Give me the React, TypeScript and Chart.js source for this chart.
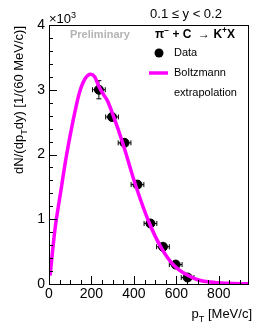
import React, { useEffect, useRef } from "react";
import { Chart, registerables } from "chart.js";
Chart.register(...registerables);

// Data points (pT in MeV/c, yield in units of 10^3)
const ptData = [235, 297, 356, 417, 478, 537, 597, 653];
const yieldData = [3.0, 2.58, 2.18, 1.535, 0.935, 0.575, 0.3, 0.1];
const ptErr = [30, 30, 30, 30, 30, 30, 30, 30];
const yieldErr = [0.14, 0.05, 0.045, 0.04, 0.03, 0.03, 0.025, 0.02];

// Boltzmann extrapolation curve
const curvePt = [5, 28, 55, 80, 112, 143, 170, 197, 215, 235, 260, 274, 305, 348, 408, 474, 527, 589, 689, 760, 840, 940];
const curveVal = [0.13, 0.84, 1.42, 1.94, 2.5, 2.95, 3.17, 3.24, 3.2, 3.05, 2.91, 2.84, 2.58, 2.17, 1.525, 0.93, 0.57, 0.286, 0.08, 0.03, 0.01, 0.002];

const xTicks = [0, 200, 400, 600, 800];
const yTicks = [0, 1, 2, 3, 4];

const FONT = "'Liberation Sans', Arial, Helvetica, sans-serif";
const MAGENTA = "#ff00ff";

type Part = { t: string; sub?: boolean; sup?: boolean };

function partsWidth(ctx: CanvasRenderingContext2D, parts: Part[], size: number, weight: string) {
  let w = 0;
  for (const p of parts) {
    const s = p.sub || p.sup ? size * 0.7 : size;
    ctx.font = `${weight} ${s}px ${FONT}`;
    w += ctx.measureText(p.t).width;
  }
  return w;
}

function drawParts(ctx: CanvasRenderingContext2D, parts: Part[], x: number, y: number, size: number, weight: string) {
  let cx = x;
  ctx.textBaseline = "alphabetic";
  ctx.textAlign = "left";
  for (const p of parts) {
    const s = p.sub || p.sup ? size * 0.7 : size;
    ctx.font = `${weight} ${s}px ${FONT}`;
    const dy = p.sub ? size * 0.3 : p.sup ? -size * 0.42 : 0;
    ctx.fillText(p.t, cx, y + dy);
    cx += ctx.measureText(p.t).width;
  }
}

const decorPlugin = {
  id: "decor",
  beforeDatasetsDraw(chart: any) {
    const ctx = chart.ctx as CanvasRenderingContext2D;
    const xs = chart.scales.x;
    const ys = chart.scales.y;
    ctx.save();
    ctx.strokeStyle = "#000";
    ctx.lineWidth = 1;
    for (let i = 0; i < ptData.length; i++) {
      const px = xs.getPixelForValue(ptData[i]);
      const py = ys.getPixelForValue(yieldData[i]);
      const x0 = xs.getPixelForValue(ptData[i] - ptErr[i]);
      const x1 = xs.getPixelForValue(ptData[i] + ptErr[i]);
      const y0 = ys.getPixelForValue(yieldData[i] - yieldErr[i]);
      const y1 = ys.getPixelForValue(yieldData[i] + yieldErr[i]);
      ctx.beginPath();
      ctx.moveTo(x0, py); ctx.lineTo(x1, py);
      ctx.moveTo(x0, py - 2.5); ctx.lineTo(x0, py + 2.5);
      ctx.moveTo(x1, py - 2.5); ctx.lineTo(x1, py + 2.5);
      ctx.moveTo(px, y0); ctx.lineTo(px, y1);
      ctx.moveTo(px - 2.5, y0); ctx.lineTo(px + 2.5, y0);
      ctx.moveTo(px - 2.5, y1); ctx.lineTo(px + 2.5, y1);
      ctx.stroke();
    }
    ctx.restore();
  },
  afterDraw(chart: any) {
    const ctx = chart.ctx as CanvasRenderingContext2D;
    const a = chart.chartArea;
    const xs = chart.scales.x;
    const ys = chart.scales.y;
    ctx.save();
    // frame
    ctx.strokeStyle = "#000";
    ctx.lineWidth = 1;
    ctx.strokeRect(Math.round(a.left) + 0.5, Math.round(a.top) + 0.5, Math.round(a.right - a.left) - 1, Math.round(a.bottom - a.top));
    // ticks
    ctx.beginPath();
    for (let v = 0; v <= 4.0001; v += 0.2) {
      const y = Math.round(ys.getPixelForValue(v)) + 0.5;
      const major = Math.abs(v - Math.round(v)) < 1e-6;
      ctx.moveTo(a.left, y);
      ctx.lineTo(a.left + (major ? 8 : 4), y);
    }
    for (let v = 0; v <= 940; v += 50) {
      const x = Math.round(xs.getPixelForValue(v)) + 0.5;
      const major = v % 200 === 0;
      ctx.moveTo(x, a.bottom);
      ctx.lineTo(x, a.bottom - (major ? 8 : 4));
    }
    ctx.stroke();

    ctx.fillStyle = "#000";
    // top label
    ctx.font = `13px ${FONT}`;
    ctx.textAlign = "center";
    ctx.textBaseline = "alphabetic";
    ctx.fillText("0.1 \u2264 y < 0.2", 186, 18);
    // x10^3
    drawParts(ctx, [{ t: "\u00d710" }, { t: "3", sup: true }], 49, 23, 13, "normal");
    // Preliminary
    ctx.fillStyle = "#b4b4b4";
    ctx.font = `bold 11px ${FONT}`;
    ctx.textAlign = "left";
    ctx.fillText("Preliminary", 70, 38);
    // reaction
    ctx.fillStyle = "#000";
    drawParts(ctx, [{ t: "\u03c0" }, { t: "\u2212", sup: true }, { t: " + C  \u2192 K" }, { t: "+", sup: true }, { t: "X" }], 155, 38, 12, "bold");
    // legend
    ctx.beginPath();
    ctx.arc(159, 53, 4.5, 0, Math.PI * 2);
    ctx.fill();
    ctx.font = `11px ${FONT}`;
    ctx.textAlign = "left";
    ctx.textBaseline = "middle";
    ctx.fillText("Data", 174, 53);
    ctx.fillText("Boltzmann", 174, 72.5);
    ctx.fillText("extrapolation", 174, 92.5);
    ctx.strokeStyle = MAGENTA;
    ctx.lineWidth = 3.5;
    ctx.beginPath();
    ctx.moveTo(149, 73);
    ctx.lineTo(168, 73);
    ctx.stroke();

    // x title
    ctx.fillStyle = "#000";
    const xt: Part[] = [{ t: "p" }, { t: "T", sub: true }, { t: " [MeV/c]" }];
    const xw = partsWidth(ctx, xt, 13, "normal");
    drawParts(ctx, xt, 252 - xw, 318, 13, "normal");

    // y title
    const yt: Part[] = [{ t: "dN/(dp" }, { t: "T", sub: true }, { t: "dy) [1/(60 MeV/c)]" }];
    const yw = partsWidth(ctx, yt, 13, "normal");
    ctx.translate(23, 26);
    ctx.rotate(-Math.PI / 2);
    drawParts(ctx, yt, -yw, 0, 13, "normal");
    ctx.restore();
  },
};

export default function App() {
  const ref = useRef<HTMLCanvasElement | null>(null);
  useEffect(() => {
    if (!ref.current) return;
    const chart = new Chart(ref.current, {
      type: "scatter",
      data: {
        datasets: [
          {
            type: "line",
            label: "Boltzmann extrapolation",
            data: curvePt.map((x, i) => ({ x, y: curveVal[i] })),
            borderColor: MAGENTA,
            borderWidth: 3.5,
            pointRadius: 0,
            cubicInterpolationMode: "monotone",
            fill: false,
            order: 0,
          } as any,
          {
            label: "Data",
            data: ptData.map((x, i) => ({ x, y: yieldData[i] })),
            backgroundColor: "#000",
            borderColor: "#000",
            pointRadius: 4.5,
            order: 1,
          },
        ],
      },
      options: {
        animation: false,
        responsive: false,
        events: [],
        layout: { padding: { left: 0, right: 1, top: 25, bottom: 0 } },
        plugins: { legend: { display: false }, tooltip: { enabled: false } },
        scales: {
          x: {
            type: "linear",
            min: 0,
            max: 940,
            grid: { display: false, drawTicks: false },
            border: { display: false },
            ticks: { color: "#000", padding: 2, font: { family: FONT, size: 14 }, maxRotation: 0 },
            afterBuildTicks: (s: any) => { s.ticks = xTicks.map((v) => ({ value: v })); },
            afterFit: (s: any) => { s.height = 43; },
          },
          y: {
            type: "linear",
            min: 0,
            max: 4,
            grid: { display: false, drawTicks: false },
            border: { display: false },
            ticks: { color: "#000", padding: 4, font: { family: FONT, size: 14 } },
            afterBuildTicks: (s: any) => { s.ticks = yTicks.map((v) => ({ value: v })); },
            afterFit: (s: any) => { s.width = 49; },
          },
        },
      },
      plugins: [decorPlugin],
    });
    return () => chart.destroy();
  }, []);
  return (
    <div style={{ position: "fixed", left: 0, top: 0, width: 254, height: 327, background: "#fff" }}>
      <canvas ref={ref} width={254} height={327} style={{ width: 254, height: 327, display: "block" }} />
    </div>
  );
}
